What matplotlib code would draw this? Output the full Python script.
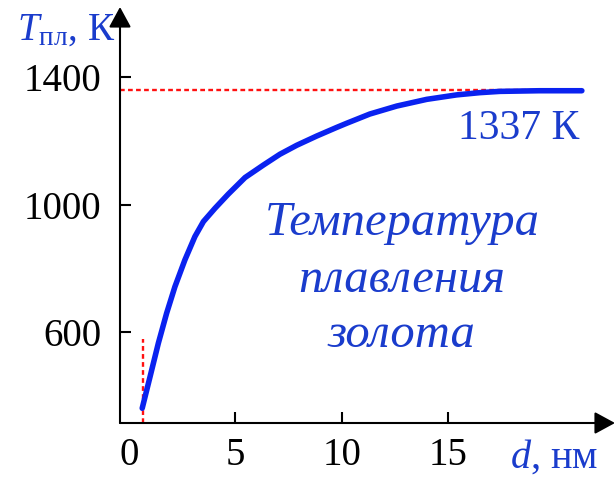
import matplotlib
matplotlib.use('Agg')
import matplotlib.pyplot as plt
from matplotlib.patches import FancyArrowPatch, ArrowStyle

plt.rcParams['font.family'] = ['Liberation Serif', 'DejaVu Serif']
plt.rcParams['mathtext.fontset'] = 'custom'
plt.rcParams['mathtext.rm'] = 'Liberation Serif'
plt.rcParams['mathtext.it'] = 'Liberation Serif:italic'

# ---- data ----
d_nm = [0.61, 0.98, 1.37, 1.76, 2.15, 2.62, 3.09, 3.49, 4.04, 4.66, 5.45,
        6.31, 7.09, 7.88, 8.82, 9.76, 10.23, 11.32, 12.59, 14.0, 15.41,
        16.5, 17.44, 19.3, 21.3]
T_melt = [362, 461, 566, 660, 743, 827, 900, 947, 989, 1033, 1085,
          1124, 1158, 1186, 1215, 1242, 1255, 1284, 1309, 1330, 1344,
          1351, 1355, 1357, 1357]
bulk_T = 1358          # level of dashed line
bulk_label = "1337 К"
bulk_line_end = 21.2
limit_d = 0.65
limit_T_top = 579
x_ticks = [0, 5, 10, 15]
x_ticklabels = ["0", "5", "10", "15"]
y_ticks = [600, 1000, 1400]
y_ticklabels = ["600", "1000", "1400"]
caption_lines = ["Температура", "плавления", "золота"]

W, H = 616, 484
fig = plt.figure(figsize=(W / 100, H / 100), dpi=100)
ax = fig.add_axes([120 / W, 1 - 423 / H, (615 - 120) / W, (423 - 7) / H])

xmin, xmax = -0.435, 22.86
ymin, ymax = 315.8, 1619.4
ax.set_xlim(xmin, xmax)
ax.set_ylim(ymin, ymax)

for s in ax.spines.values():
    s.set_visible(False)

curve_col = '#0a22f0'
text_col = '#1a3ccc'
red = '#ff1010'

# red dashed reference lines
ax.plot([xmin, bulk_line_end], [bulk_T, bulk_T], color=red, lw=1.7,
        dashes=(2.0, 1.4), zorder=2)
ax.plot([limit_d, limit_d], [ymin, limit_T_top], color=red, lw=1.7,
        dashes=(2.0, 1.4), zorder=2)

# curve
ax.plot(d_nm, T_melt, color=curve_col, lw=4, solid_capstyle='round',
        solid_joinstyle='round', zorder=3)

# axes with arrows
style = ArrowStyle('-|>', head_length=12.5, head_width=6.8)
for start, end in [((0, 0), (1, 0)), ((0, 0), (0, 1))]:
    arr = FancyArrowPatch(start, end, transform=ax.transAxes,
                          arrowstyle=style, mutation_scale=1, lw=1.5,
                          color='black', shrinkA=0, shrinkB=0, clip_on=False,
                          zorder=5)
    ax.add_artist(arr)

ax.set_xticks(x_ticks)
ax.set_xticklabels(x_ticklabels)
ax.set_yticks(y_ticks)
ax.set_yticklabels(y_ticklabels)
ax.tick_params(axis='both', direction='in', length=8, width=1.5,
               labelsize=28, colors='black')
ax.tick_params(axis='y', pad=13.5)
ax.tick_params(axis='x', pad=10)
ax.xaxis.get_major_ticks()[0].tick1line.set_visible(False)

# axis labels
fig.text(17 / W, 1 - 40 / H, r'$T_{\mathrm{пл}}$, К', color=text_col,
         fontsize=28, ha='left', va='baseline')
fig.text(510 / W, 1 - 468 / H, r'$d$, нм', color=text_col,
         fontsize=29, ha='left', va='baseline')

# bulk label
fig.text(458 / W, 1 - 139 / H, bulk_label, color=text_col, fontsize=30,
         ha='left', va='baseline')

# caption
for line, yb in zip(caption_lines, [235, 292, 347]):
    fig.text(402 / W, 1 - yb / H, line, color=text_col, fontsize=35,
             style='italic', ha='center', va='baseline')

fig.savefig('out.png', dpi=100)
